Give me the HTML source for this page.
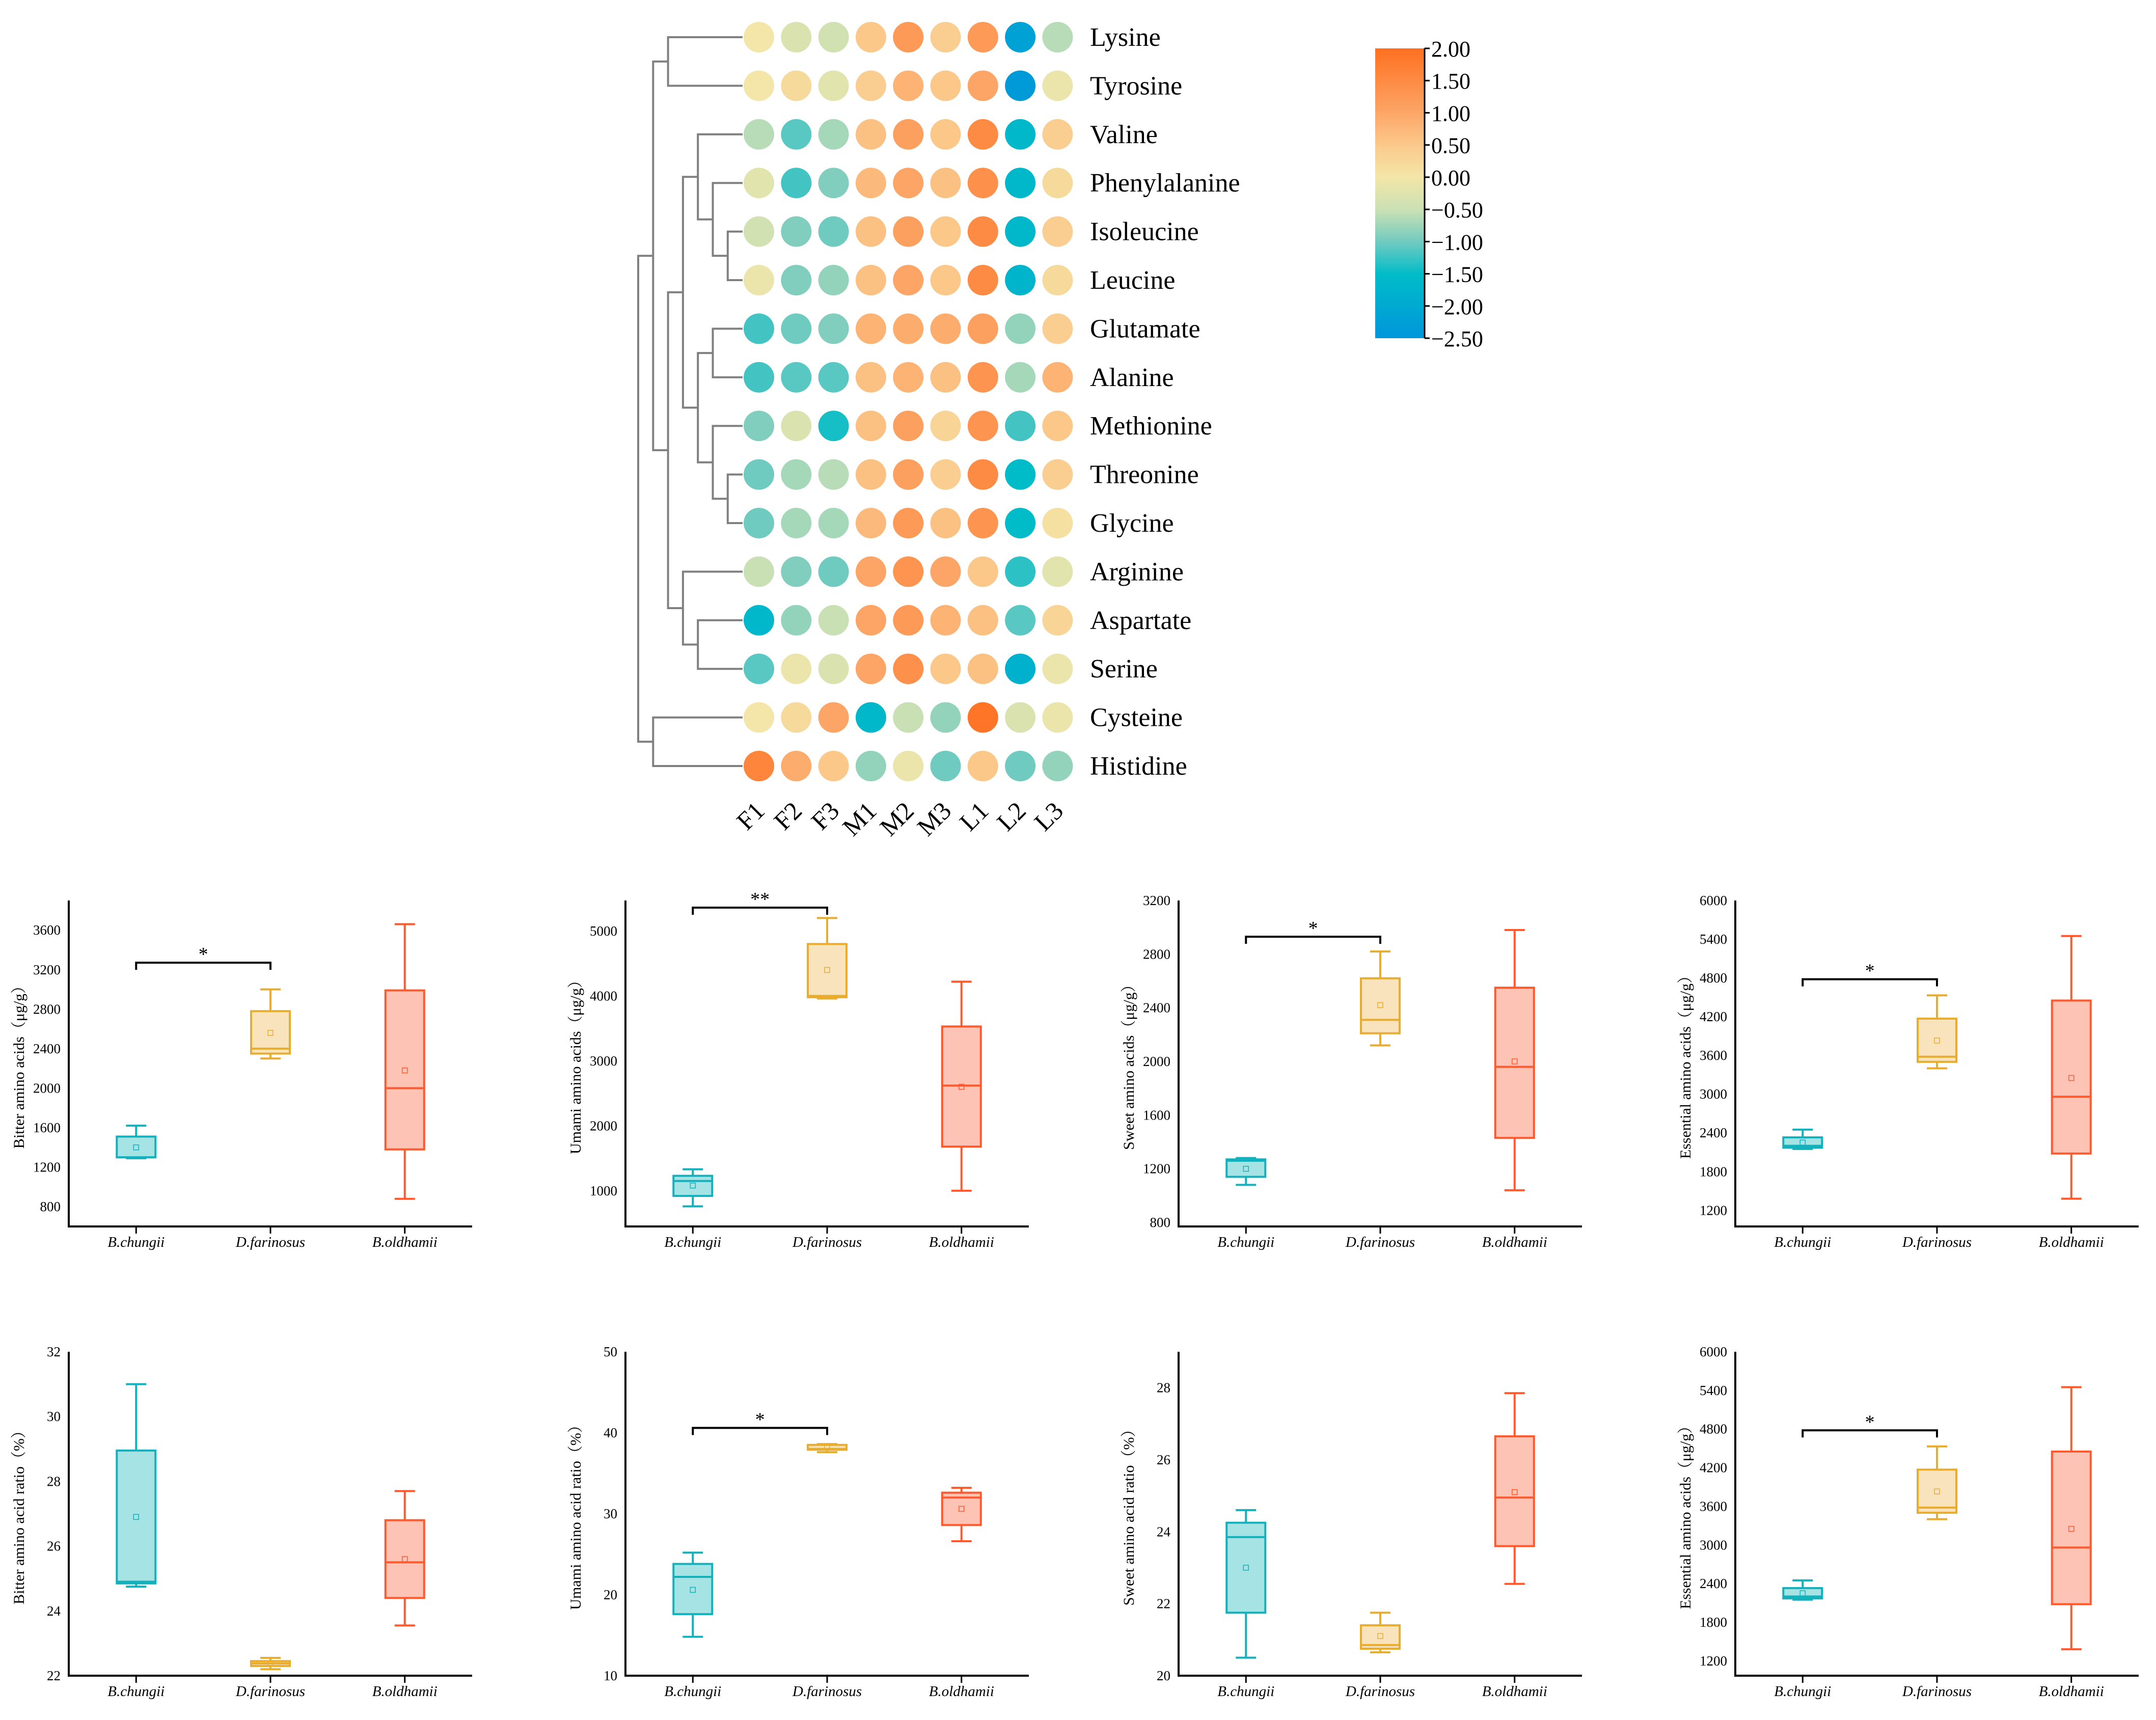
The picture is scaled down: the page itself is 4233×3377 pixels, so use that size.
<!DOCTYPE html>
<html><head><meta charset="utf-8"><style>
html,body{margin:0;padding:0;background:#fff}
svg{display:block;font-family:"Liberation Serif",serif}
</style></head><body>
<svg id="fig" width="4233" height="3377" viewBox="0 0 4233 3377" xmlns="http://www.w3.org/2000/svg">
<rect width="4233" height="3377" fill="#fff"/>
<defs><linearGradient id="cbar" x1="0" y1="1" x2="0" y2="0">
<stop offset="0" stop-color="#0096db"/><stop offset="0.22" stop-color="#00bcc8"/><stop offset="0.33" stop-color="#6fcac0"/><stop offset="0.44" stop-color="#c9e0b5"/><stop offset="0.555" stop-color="#f3e6a8"/><stop offset="0.67" stop-color="#fbc88a"/><stop offset="0.78" stop-color="#fca566"/><stop offset="1" stop-color="#ff7020"/></linearGradient></defs>
<g id="heat"></g>
<g id="boxes"></g>
</svg>
<script>
const NS="http://www.w3.org/2000/svg";
const samples=["F1","F2","F3","M1","M2","M3","L1","L2","L3"];
const aminoAcids=["Lysine","Tyrosine","Valine","Phenylalanine","Isoleucine","Leucine","Glutamate","Alanine","Methionine","Threonine","Glycine","Arginine","Aspartate","Serine","Cysteine","Histidine"];
const zscores=[
[0,-0.3,-0.4,0.5,1.2,0.4,1.2,-2.2,-0.6],
[0,0.2,-0.2,0.4,0.8,0.5,1.0,-2.4,-0.1],
[-0.6,-1.1,-0.7,0.6,1.1,0.5,1.5,-1.6,0.4],
[-0.2,-1.2,-0.9,0.7,1.0,0.6,1.4,-1.6,0.2],
[-0.4,-0.9,-1.0,0.6,1.1,0.5,1.5,-1.6,0.4],
[-0.1,-0.9,-0.8,0.6,1.0,0.5,1.5,-1.7,0.2],
[-1.2,-1.0,-0.9,0.8,0.9,0.9,1.1,-0.8,0.4],
[-1.2,-1.1,-1.1,0.6,0.8,0.6,1.3,-0.7,0.8],
[-0.9,-0.3,-1.4,0.6,1.1,0.3,1.3,-1.2,0.5],
[-1.0,-0.7,-0.6,0.6,1.1,0.4,1.5,-1.5,0.4],
[-1.0,-0.7,-0.7,0.7,1.2,0.6,1.3,-1.5,0.1],
[-0.5,-0.9,-1.0,1.0,1.3,1.0,0.5,-1.3,-0.2],
[-1.6,-0.8,-0.5,1.0,1.2,0.8,0.6,-1.1,0.3],
[-1.1,-0.1,-0.3,1.0,1.4,0.5,0.6,-1.8,-0.1],
[0,0.2,1.0,-1.6,-0.5,-0.8,1.9,-0.3,-0.1],
[1.6,0.9,0.5,-0.8,-0.1,-1.0,0.5,-1.0,-0.8]];
const cbarTicks=["2.00","1.50","1.00","0.50","0.00","−0.50","−1.00","−1.50","−2.00","−2.50"];
const merges=[[0,1,2],[4,5,6],[3,"n1",5],[2,"n2",4],[6,7,5],[9,10,6],[8,"n5",5],["n4","n6",4],["n3","n7",3],[12,13,4],[11,"n9",3],["n8","n10",2],["n0","n11",1],[14,15,1],["n12","n13",0]];

function el(tag,attrs,parent,txt){const e=document.createElementNS(NS,tag);for(const k in attrs)e.setAttribute(k,attrs[k]);if(txt!==undefined)e.textContent=txt;parent.appendChild(e);return e;}

const stops=[[-2.5,[0,150,219]],[-1.5,[0,188,200]],[-1,[111,202,192]],[-0.5,[201,224,181]],[0,[243,230,168]],[0.5,[251,200,138]],[1,[252,165,102]],[2,[255,112,32]]];
function color(v){v=Math.max(-2.5,Math.min(2,v));for(let i=0;i<stops.length-1;i++){const[a,ca]=stops[i],[b,cb]=stops[i+1];if(v<=b){const t=(v-a)/(b-a);return "rgb("+ca.map((c,j)=>Math.round(c+(cb[j]-c)*t)).join(",")+")";}}return "rgb(255,112,32)";}

const heat=document.getElementById("heat");
const cx0=1490,dx=73.3,cy0=73,dy=95.4;
const colX=i=>cx0+i*dx, rowY=r=>cy0+r*dy;
zscores.forEach((row,r)=>{row.forEach((v,c)=>{
 const ci=el("circle",{cx:colX(c),cy:rowY(r),r:30,fill:color(v)},heat);
 
 
});
 const t=el("text",{x:2140,y:rowY(r)+17,"font-size":52,fill:"#000"},heat,aminoAcids[r]);
 
 
});
samples.forEach((s,c)=>{
 const x=colX(c)+14,y=1595;
 const t=el("text",{x:x,y:y,"font-size":50,"text-anchor":"end",transform:`rotate(-45 ${x} ${y})`},heat,s);
 
 
});
const lvX=l=>1253+l*29.3, leafX=1458;
const nodes=[];
function pos(n){return typeof n==="number"?{x:leafX,y:rowY(n)}:nodes[+n.slice(1)];}
const dg=el("g",{stroke:"#808080","stroke-width":4,fill:"none"},heat);


merges.forEach(m=>{const a=pos(m[0]),b=pos(m[1]),x=lvX(m[2]);
 el("path",{d:`M${a.x},${a.y}H${x}V${b.y}H${b.x}`},dg);
 nodes.push({x:x,y:(a.y+b.y)/2});});
const cb=el("rect",{x:2700,y:95,width:97,height:569,fill:"url(#cbar)"},heat);


el("line",{x1:2797,y1:95,x2:2797,y2:664,stroke:"#000","stroke-width":3},heat);
cbarTicks.forEach((t,i)=>{const y=95+i*569/9;
 el("line",{x1:2797,y1:y,x2:2807,y2:y,stroke:"#000","stroke-width":3},heat);
 const tx=el("text",{x:2810,y:y+16,"font-size":44},heat,t);
 
 });

const groups=["B.chungii","D.farinosus","B.oldhamii"];
const strokes=["#14b1bd","#e8ad2e","#ff5a2e"], fills=["#a5e3e4","#f8e3bd","#fdc4b6"];
const bitterAbs=[[1290,1300,1300,1510,1620,1400],[2300,2350,2400,2780,3000,2560],[880,1380,2000,2990,3660,2180]];
const umamiAbs=[[760,920,1150,1230,1330,1080],[3960,3980,4000,4800,5200,4400],[1000,1680,2620,3530,4220,2600]];
const sweetAbs=[[1080,1140,1260,1270,1280,1200],[2120,2210,2310,2620,2820,2420],[1040,1430,1960,2550,2980,2000]];
const essAbs=[[2150,2170,2200,2330,2450,2250],[3400,3500,3580,4170,4530,3830],[1380,2080,2960,4450,5450,3250]];
const bitterPct=[[24.75,24.85,24.9,28.95,31,26.9],[22.2,22.3,22.38,22.45,22.55,22.38],[23.55,24.4,25.5,26.8,27.7,25.6]];
const umamiPct=[[14.8,17.6,22.2,23.8,25.2,20.6],[37.6,37.9,38.0,38.5,38.6,38.2],[26.6,28.6,32,32.6,33.2,30.6]];
const sweetPct=[[20.5,21.75,23.85,24.25,24.6,23],[20.65,20.75,20.85,21.4,21.75,21.1],[22.55,23.6,24.95,26.65,27.85,25.1]];
const panels=[
 {t:"Bitter amino acids\uFF08μg/g\uFF09",d:bitterAbs,min:600,max:3900,ticks:[800,1200,1600,2000,2400,2800,3200,3600],sig:[3270,"*"],x0:135,row:0},
 {t:"Umami amino acids\uFF08μg/g\uFF09",d:umamiAbs,min:450,max:5470,ticks:[1000,2000,3000,4000,5000],sig:[5360,"**"],x0:1228,row:0},
 {t:"Sweet amino acids\uFF08μg/g\uFF09",d:sweetAbs,min:770,max:3200,ticks:[800,1200,1600,2000,2400,2800,3200],sig:[2930,"*"],x0:2314,row:0},
 {t:"Essential amino acids\uFF08μg/g\uFF09",d:essAbs,min:950,max:6000,ticks:[1200,1800,2400,3000,3600,4200,4800,5400,6000],sig:[4780,"*"],x0:3407,row:0},
 {t:"Bitter amino acid ratio\uFF08%\uFF09",d:bitterPct,min:22,max:32,ticks:[22,24,26,28,30,32],sig:null,x0:135,row:1},
 {t:"Umami amino acid ratio\uFF08%\uFF09",d:umamiPct,min:10,max:50,ticks:[10,20,30,40,50],sig:[40.6,"*"],x0:1228,row:1},
 {t:"Sweet amino acid ratio\uFF08%\uFF09",d:sweetPct,min:20,max:29,ticks:[20,22,24,26,28],sig:null,x0:2314,row:1},
 {t:"Essential amino acids\uFF08μg/g\uFF09",d:essAbs,min:970,max:6000,ticks:[1200,1800,2400,3000,3600,4200,4800,5400,6000],sig:[4780,"*"],x0:3407,row:1}];
const bx=document.getElementById("boxes");
const W=792, rows=[[1768,2408],[2654,3290]];
const FF='"Liberation Serif","Noto Serif CJK SC",serif';
panels.forEach((p,pi)=>{
 const g=el("g",{},bx);
 
 
 const[top,bot]=rows[p.row];
 const y=v=>bot-(v-p.min)/(p.max-p.min)*(bot-top);
 const xc=i=>p.x0+W*(0.167+i*0.333);
 el("path",{d:`M${p.x0},${top}V${bot}H${p.x0+W}`,stroke:"#000","stroke-width":4,fill:"none"},g);
 p.ticks.forEach(t=>{const tx=el("text",{x:p.x0-16,y:y(t)+9,"font-size":27,"text-anchor":"end","font-family":FF},g,t);
  
  });
 const ty=(top+bot)/2, tx0=p.x0-88;
 const tt=el("text",{x:tx0,y:ty,"font-size":30,"text-anchor":"middle","font-family":FF,transform:`rotate(-90 ${tx0} ${ty})`},g,p.t);
 
 
 groups.forEach((gn,i)=>{
  const x=xc(i), s=p.d[i], bw=38, cw=20;
  el("line",{x1:x,y1:bot,x2:x,y2:bot+14,stroke:"#000","stroke-width":3},g);
  const lb=el("text",{x:x,y:bot+40,"font-size":29,"font-style":"italic","text-anchor":"middle","font-family":FF},g,gn);
  
  
  const bg=el("g",{stroke:strokes[i],"stroke-width":4,fill:"none"},g);
  
  
  el("line",{x1:x,y1:y(s[0]),x2:x,y2:y(s[4])},bg);
  el("line",{x1:x-cw,y1:y(s[0]),x2:x+cw,y2:y(s[0])},bg);
  el("line",{x1:x-cw,y1:y(s[4]),x2:x+cw,y2:y(s[4])},bg);
  el("rect",{x:x-bw,y:y(s[3]),width:2*bw,height:Math.max(2,y(s[1])-y(s[3])),fill:fills[i]},bg);
  el("line",{x1:x-bw,y1:y(s[2]),x2:x+bw,y2:y(s[2])},bg);
  el("rect",{x:x-5,y:y(s[5])-5,width:10,height:10,"stroke-width":1.5,fill:"none"},bg);
 });
 if(p.sig){const sy=y(p.sig[0]),a=xc(0),b=xc(1);
  const sg=el("g",{},g);
  
  
  el("path",{d:`M${a},${sy+14}V${sy}H${b}V${sy+14}`,stroke:"#000","stroke-width":4,fill:"none"},sg);
  el("text",{x:(a+b)/2,y:sy-4,"font-size":38,"text-anchor":"middle","font-family":FF},sg,p.sig[1]);}
});
</script>
</body></html>
